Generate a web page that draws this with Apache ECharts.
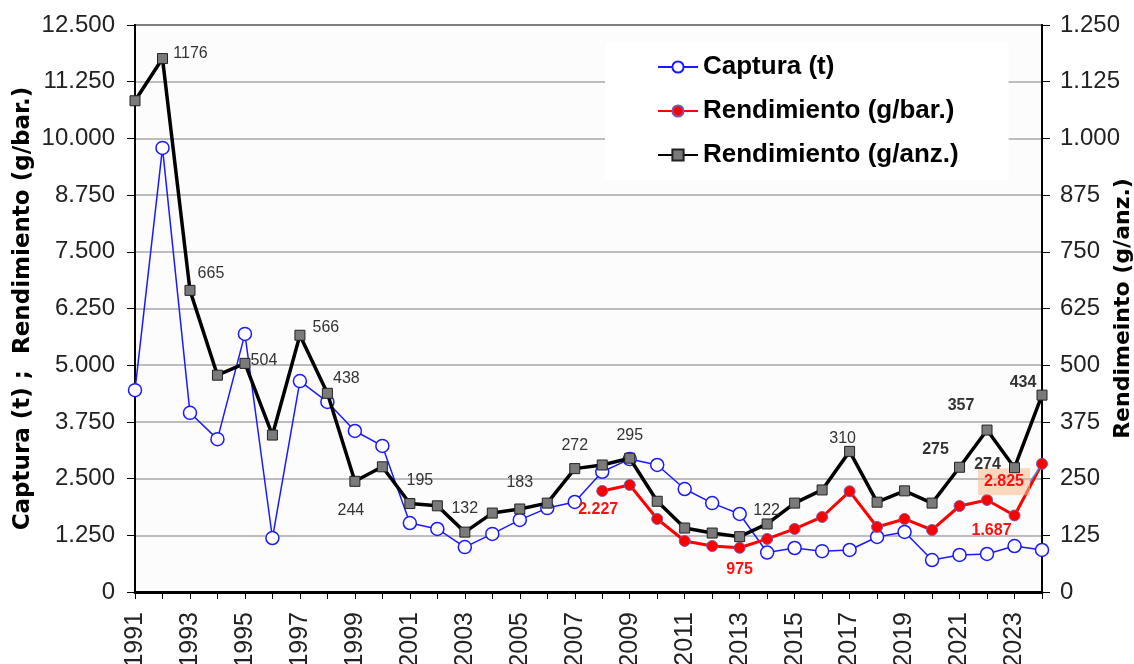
<!DOCTYPE html>
<html>
<head>
<meta charset="utf-8">
<script src="https://cdn.jsdelivr.net/npm/echarts@6/dist/echarts.min.js"></script>
<style>
  html, body { margin: 0; padding: 0; background: #fff; }
  #chart { width: 1134px; height: 664px; }
</style>
</head>
<body>
<div id="chart"></div>
<script>
// Datos
const years = ['1991','1992','1993','1994','1995','1996','1997','1998','1999','2000',
               '2001','2002','2003','2004','2005','2006','2007','2008','2009','2010',
               '2011','2012','2013','2014','2015','2016','2017','2018','2019','2020',
               '2021','2022','2023','2024'];

const captura = [4450, 9790, 3950, 3370, 5690, 1190, 4650, 4190, 3550, 3220,
                 1520, 1390, 990, 1280, 1590, 1850, 1985, 2650, 2930, 2800,
                 2270, 1960, 1720, 870, 970, 900, 926, 1213, 1323, 705,
                 816, 838, 1014, 926];

const rendBar = [null, null, null, null, null, null, null, null, null, null,
                 null, null, null, null, null, null, null, 2227, 2360, 1610,
                 1125, 1014, 975, 1170, 1390, 1654, 2220, 1433, 1610, 1367,
                 1896, 2029, 1687, 2825];

const rendAnz = [1083, 1176, 665, 478, 504, 346, 566, 438, 244, 276,
                 195, 190, 132, 174, 183, 196, 272, 280, 295, 200,
                 141, 130, 122, 150, 196, 225, 310, 198, 223, 196,
                 275, 357, 274, 434];

const leftTicks = [0, 12500, 1250];
const rightTicks = [0, 1250, 125];

// etiquetas: año -> desplazamiento del texto respecto al punto
const anzLabels = {
    '1992': [28, -5], '1993': [21, -17], '1995': [19, -3], '1997': [26, -8],
    '1998': [19, -15], '1999': [-4, 29], '2001': [10, -23], '2003': [0, -24],
    '2005': [0, -26], '2007': [0, -23], '2009': [0, -23], '2013': [27, -26],
    '2017': [-7, -13], '2021': [-24, -18], '2022': [-26, -24], '2023': [-27, -3],
    '2024': [-19, -13]
};
const anzBold = ['2021', '2022', '2023', '2024'];
const barLabels = {
    '2008': [-4, 19], '2013': [0, 22], '2023': [-23, 15], '2024': [-38, 18]
};
const boxedYear = '2024';

const FONT = 'Liberation Sans, Arial, sans-serif';

function fmt(v) {
    return String(v).replace(/\B(?=(\d{3})+(?!\d))/g, '.');
}

function buildAnz() {
    return rendAnz.map(function (v, i) {
        const off = anzLabels[years[i]];
        if (!off) return v;
        return {
            value: v,
            label: {
                show: true,
                position: 'inside',
                offset: off,
                formatter: function (p) { return String(p.value); },
                color: '#333',
                fontSize: 16,
                fontFamily: FONT,
                fontWeight: anzBold.indexOf(years[i]) >= 0 ? 'bold' : 'normal'
            }
        };
    });
}

function buildBar() {
    return rendBar.map(function (v, i) {
        const off = barLabels[years[i]];
        if (!off || v == null) return v;
        const item = {
            value: v,
            label: {
                show: true,
                position: 'inside',
                formatter: function (p) { return fmt(p.value); },
                color: '#ff1010',
                fontSize: 16,
                fontWeight: 'bold',
                fontFamily: FONT
            }
        };
        if (years[i] === boxedYear) {
            item.label.backgroundColor = 'rgba(247,185,140,0.55)';
            item.label.padding = [6, 6, 5, 6];
            item.labelLine = { show: true, lineStyle: { color: '#5b8fd0', width: 1.5 } };
        }
        return item;
    });
}

var chart = echarts.init(document.getElementById('chart'));

var option = {
    backgroundColor: '#ffffff',
    animation: false,
    grid: {
        left: 135,
        right: 92,
        top: 25,
        bottom: 72,
        outerBoundsMode: 'none',
        containLabel: false,
        show: true,
        backgroundColor: '#fcfcfc',
        borderColor: '#000',
        borderWidth: 2
    },
    legend: {
        orient: 'vertical',
        left: 605,
        top: 42,
        padding: [12, 50, 12, 52],
        backgroundColor: '#ffffff',
        itemWidth: 40,
        itemHeight: 14,
        itemGap: 18,
        textStyle: {
            fontSize: 26,
            fontWeight: 'bold',
            fontFamily: FONT,
            color: '#000'
        },
        data: ['Captura (t)', 'Rendimiento (g/bar.)', 'Rendimiento (g/anz.)']
    },
    xAxis: {
        type: 'category',
        data: years,
        boundaryGap: false,
        axisLine: { lineStyle: { color: '#000', width: 3 } },
        axisTick: { show: true, interval: 0, length: 7, lineStyle: { color: '#000' } },
        axisLabel: {
            interval: 1,
            rotate: 90,
            margin: 20,
            fontSize: 25,
            fontFamily: FONT,
            color: '#222'
        },
        splitLine: { show: false }
    },
    yAxis: [
        {
            type: 'value',
            min: leftTicks[0],
            max: leftTicks[1],
            interval: leftTicks[2],
            name: 'Captura (t) ;  Rendimiento (g/bar.)',
            nameLocation: 'middle',
            nameRotate: 90,
            nameGap: 100,
            nameMoveOverlap: false,
            nameTextStyle: {
                fontSize: 23,
                fontWeight: 'bold',
                fontFamily: 'DejaVu Sans, sans-serif',
                color: '#000'
            },
            axisLine: { show: true, lineStyle: { color: '#000', width: 2 } },
            axisTick: { show: true, length: 8, lineStyle: { color: '#000' } },
            axisLabel: {
                margin: 20,
                fontSize: 24,
                fontFamily: FONT,
                color: '#222',
                formatter: fmt
            },
            splitLine: { show: true, lineStyle: { color: '#a8a8a8', width: 1.5 } }
        },
        {
            type: 'value',
            min: rightTicks[0],
            max: rightTicks[1],
            interval: rightTicks[2],
            name: 'Rendimeinto (g/anz.)',
            nameLocation: 'middle',
            nameRotate: 90,
            nameGap: 70,
            nameMoveOverlap: false,
            nameTextStyle: {
                fontSize: 22,
                fontWeight: 'bold',
                fontFamily: 'DejaVu Sans, sans-serif',
                color: '#000'
            },
            axisLine: { show: true, lineStyle: { color: '#000', width: 2 } },
            axisTick: { show: true, length: 8, lineStyle: { color: '#000' } },
            axisLabel: {
                margin: 18,
                fontSize: 24,
                fontFamily: FONT,
                color: '#222',
                formatter: fmt
            },
            splitLine: { show: false }
        }
    ],
    series: [
        {
            name: 'Captura (t)',
            type: 'line',
            yAxisIndex: 0,
            data: captura,
            symbol: 'circle',
            symbolSize: 13,
            showAllSymbol: true,
            lineStyle: { color: '#1a1aff', width: 1.5 },
            itemStyle: { color: '#ffffff', borderColor: '#1a1aff', borderWidth: 1.5 },
            z: 2
        },
        {
            name: 'Rendimiento (g/bar.)',
            type: 'line',
            yAxisIndex: 0,
            data: buildBar(),
            symbol: 'circle',
            symbolSize: 11,
            showAllSymbol: true,
            lineStyle: { color: '#ff0000', width: 3 },
            itemStyle: { color: '#ff0000', borderColor: '#7a5aa8', borderWidth: 1 },
            // etiquetas desplazadas desde su punto (con guía en la recuadrada)
            labelLayout: function (p) {
                const off = barLabels[years[p.dataIndex]];
                if (!off) return {};
                return {
                    x: p.rect.x + p.rect.width / 2 + off[0],
                    y: p.rect.y + p.rect.height / 2 + off[1],
                    align: 'center',
                    verticalAlign: 'middle'
                };
            },
            z: 3
        },
        {
            name: 'Rendimiento (g/anz.)',
            type: 'line',
            yAxisIndex: 1,
            data: buildAnz(),
            symbol: 'rect',
            symbolSize: 10,
            showAllSymbol: true,
            lineStyle: { color: '#000000', width: 3.5 },
            itemStyle: { color: '#7a7a7a', borderColor: '#222', borderWidth: 1 },
            z: 4
        }
    ]
};

chart.setOption(option);
</script>
</body>
</html>
